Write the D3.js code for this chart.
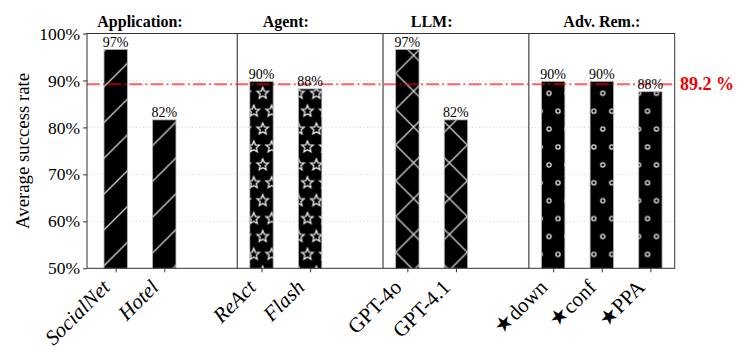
<!DOCTYPE html>
<html>
<head>
<meta charset="utf-8">
<script src="https://cdn.jsdelivr.net/npm/d3@7"></script>
<style>
body { margin: 0; background: #fff; }
svg { display: block; }
svg text { font-family: "Liberation Serif", "Times New Roman", serif; }
</style>
</head>
<body>
<svg id="chart" width="739" height="352"></svg>
<script>
// data
var groups = ["Application:", "Agent:", "LLM:", "Adv. Rem.:"]
var hatches = ["slash", "star", "cross", "ring"]
var labels = ["SocialNet", "Hotel", "ReAct", "Flash", "GPT-4o", "GPT-4.1", "\u2605down", "\u2605conf", "\u2605PPA"]
var italic = [true, true, true, true, false, false, false, false, false]
var groupOf = [0, 0, 1, 1, 2, 2, 3, 3, 3]
var values = [96.6, 81.6, 89.8, 88.2, 96.6, 81.6, 89.8, 89.8, 87.6]
var valueText = ["97%", "82%", "90%", "88%", "97%", "82%", "90%", "90%", "88%"]
var average = 89.2
var yTicks = [50, 60, 70, 80, 90, 100]

var margin = { left: 87, right: 674.7, top: 33.5, bottom: 268.3 }
var svg = d3.select("#chart")

// one empty slot between groups
var slot = labels.map((d, i) => i + groupOf[i])
var x = d3.scaleLinear().domain([-0.59, 11.5]).range([margin.left, margin.right])
var y = d3.scaleLinear().domain([50, 100]).range([margin.bottom, margin.top])
var barW = x(0.48) - x(0)

// hatch patterns (figure space, like matplotlib)
var defs = svg.append("defs")
var P = 35.8, S = 17.9
var hatchCol = "#d4d4d4"

function starPath(cx, cy, R, r) {
    var pts = []
    for (var k = 0; k < 10; k++) {
        var a = -Math.PI / 2 + k * Math.PI / 5
        var rad = k % 2 == 0 ? R : r
        pts.push([cx + rad * Math.cos(a), cy + rad * Math.sin(a)])
    }
    return "M" + pts.map(p => p[0].toFixed(2) + "," + p[1].toFixed(2)).join("L") + "Z"
}

var pSlash = defs.append("pattern").attr("id", "slash")
    .attr("patternUnits", "userSpaceOnUse")
    .attr("x", 104).attr("y", 50.9).attr("width", P).attr("height", P)
pSlash.append("rect").attr("width", P).attr("height", P).attr("fill", "#000")
pSlash.append("path")
    .attr("d", "M-3,3L3,-3M0," + P + "L" + P + ",0M" + (P - 3) + "," + (P + 3) + "L" + (P + 3) + "," + (P - 3))
    .attr("stroke", hatchCol).attr("stroke-width", 1.3)

var pCross = defs.append("pattern").attr("id", "cross")
    .attr("patternUnits", "userSpaceOnUse")
    .attr("x", 395.7).attr("y", 73.3).attr("width", P).attr("height", P)
pCross.append("rect").attr("width", P).attr("height", P).attr("fill", "#000")
pCross.append("path")
    .attr("d", "M0,0L" + P + "," + P + "M0," + P + "L" + P + ",0")
    .attr("stroke", hatchCol).attr("stroke-width", 1.3)

var shapeSpots = [[0, 0], [S, 0], [0, P], [S, P], [S / 2, S]]

var pStar = defs.append("pattern").attr("id", "star")
    .attr("patternUnits", "userSpaceOnUse")
    .attr("x", 262.7).attr("y", 93.3).attr("width", S).attr("height", P)
pStar.append("rect").attr("width", S).attr("height", P).attr("fill", "#000")
pStar.selectAll("path").data(shapeSpots).enter().append("path")
    .attr("d", d => starPath(d[0], d[1], 6, 2.7))
    .attr("fill", "none").attr("stroke", "#f2f2f2").attr("stroke-width", 1.3)

var pRing = defs.append("pattern").attr("id", "ring")
    .attr("patternUnits", "userSpaceOnUse")
    .attr("x", 549.1).attr("y", 93.3).attr("width", S).attr("height", P)
pRing.append("rect").attr("width", S).attr("height", P).attr("fill", "#000")
pRing.selectAll("circle").data(shapeSpots).enter().append("circle")
    .attr("cx", d => d[0]).attr("cy", d => d[1]).attr("r", 2.1)
    .attr("fill", "none").attr("stroke", "#e8e8e8").attr("stroke-width", 1.3)

// grid
svg.append("g").selectAll("line")
    .data(yTicks.filter(d => d > 50 && d < 100))
    .enter().append("line")
    .attr("x1", margin.left).attr("x2", margin.right)
    .attr("y1", d => y(d)).attr("y2", d => y(d))
    .attr("stroke", "#c8c8c8").attr("stroke-width", 0.8)
    .attr("stroke-dasharray", "1,2.5")

// bars
svg.append("g").selectAll("rect")
    .data(values)
    .enter().append("rect")
    .attr("x", (d, i) => x(slot[i]) - barW / 2)
    .attr("y", d => y(d))
    .attr("width", barW)
    .attr("height", d => y(50) - y(d))
    .attr("fill", (d, i) => "url(#" + hatches[groupOf[i]] + ")")
    .attr("stroke", "#b0b0b0").attr("stroke-width", 0.8)

// group dividers, halfway into the empty slot before each group
var dividers = groups.slice(1).map((g, k) => slot[groupOf.indexOf(k + 1)] - 0.5)
svg.append("g").selectAll("line")
    .data(dividers)
    .enter().append("line")
    .attr("x1", d => x(d)).attr("x2", d => x(d))
    .attr("y1", margin.top).attr("y2", margin.bottom)
    .attr("stroke", "#222").attr("stroke-width", 1)

// average line
svg.append("line")
    .attr("x1", margin.left).attr("x2", margin.right)
    .attr("y1", y(average)).attr("y2", y(average))
    .attr("stroke", "#ff0000").attr("stroke-opacity", 0.62)
    .attr("stroke-width", 2)
    .attr("stroke-dasharray", "12.8,3.2,2,3.2")

svg.append("text")
    .attr("x", 680).attr("y", y(average) + 6)
    .attr("fill", "#ee0000")
    .style("font-weight", "bold").style("font-size", "18px")
    .text(average + " %")

// value labels
svg.append("g").selectAll("text")
    .data(values)
    .enter().append("text")
    .attr("x", (d, i) => x(slot[i]))
    .attr("y", d => y(d) - 2.5)
    .attr("text-anchor", "middle")
    .style("font-size", "14px")
    .text((d, i) => valueText[i])

// group titles centred over their bars
svg.append("g").selectAll("text")
    .data(groups)
    .enter().append("text")
    .attr("x", (g, k) => x(d3.mean(slot.filter((s, i) => groupOf[i] == k))))
    .attr("y", 27)
    .attr("text-anchor", "middle")
    .style("font-weight", "bold").style("font-size", "16px")
    .text(g => g)

// frame
svg.append("rect")
    .attr("x", margin.left).attr("y", margin.top)
    .attr("width", margin.right - margin.left)
    .attr("height", margin.bottom - margin.top)
    .attr("fill", "none").attr("stroke", "#333").attr("stroke-width", 1)

// y axis
var yAxis = svg.append("g")
    .attr("transform", "translate(" + margin.left + ",0)")
    .call(d3.axisLeft(y).tickValues(yTicks).tickFormat(d => d + "%").tickSize(4).tickPadding(3))
yAxis.select(".domain").remove()
yAxis.selectAll("line").attr("stroke", "#333")
yAxis.selectAll("text")
    .style("font-family", "Liberation Serif, serif").style("font-size", "17.5px")
    .attr("fill", "#000")

svg.append("text")
    .attr("transform", "translate(29," + ((margin.top + margin.bottom) / 2) + ") rotate(-90)")
    .attr("text-anchor", "middle")
    .style("font-size", "18.8px")
    .text("Average success rate")

// x axis
var xAxis = svg.append("g")
    .attr("transform", "translate(0," + margin.bottom + ")")
    .call(d3.axisBottom(x).tickValues(slot).tickFormat("").tickSize(4))
xAxis.select(".domain").remove()
xAxis.selectAll("line").attr("stroke", "#333")

svg.append("g").selectAll("text")
    .data(labels)
    .enter().append("text")
    .attr("transform", (d, i) => "translate(" + (x(slot[i]) - 4.5) + "," + (margin.bottom + 20.3) + ") rotate(-45)")
    .attr("text-anchor", "end")
    .style("font-size", "21px")
    .style("font-style", (d, i) => italic[i] ? "italic" : "normal")
    .text(d => d)
</script>
</body>
</html>
